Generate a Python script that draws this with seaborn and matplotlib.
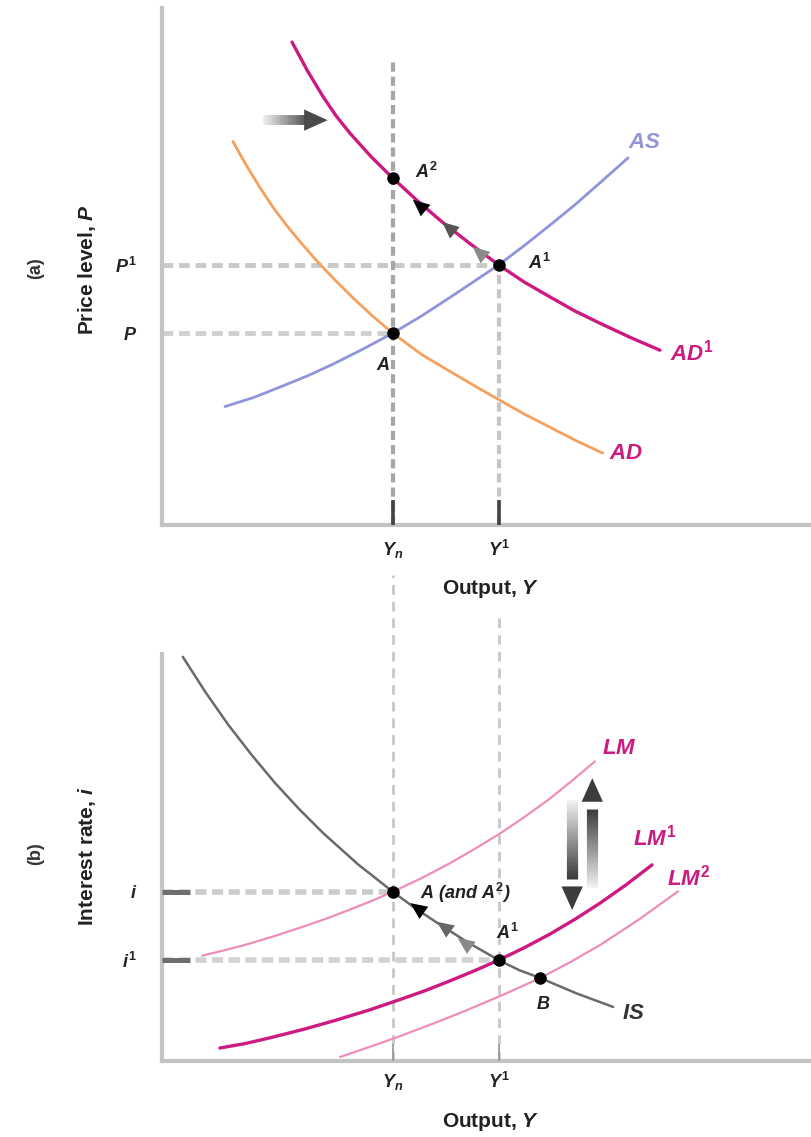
import numpy as np
import matplotlib
matplotlib.use("Agg")
import matplotlib.pyplot as plt
from matplotlib.colors import to_rgb
import seaborn as sns

# ---- panel (a): aggregate demand / aggregate supply ----
Y_N, Y_1 = 35.5, 51.8
P_0, P_1, P_2 = 37.1, 50.3, 67.1

ad_x = [10.9, 13.0, 15.1, 17.1, 19.2, 21.5, 23.8, 26.6, 29.4, 32.4, 35.5,
        39.9, 44.3, 48.1, 52.0, 55.8, 59.7, 63.7, 67.8]
ad_y = [74.2, 69.5, 65.2, 61.4, 57.9, 54.4, 51.1, 47.4, 43.9, 40.4, 37.1,
        33.0, 29.7, 26.9, 24.1, 21.4, 18.9, 16.3, 13.9]
ad1_x = [20.0, 22.4, 24.8, 26.8, 28.9, 32.2, 35.5, 39.3, 43.1, 47.4, 51.8,
         55.7, 59.7, 63.5, 67.4, 72.0, 76.6]
ad1_y = [93.4, 87.8, 82.8, 79.1, 75.8, 71.2, 67.1, 62.7, 58.6, 54.4, 50.3,
         47.0, 44.1, 41.4, 39.0, 36.3, 33.8]
as_x = [9.7, 14.2, 18.6, 22.5, 26.3, 30.9, 35.5, 39.9, 44.3, 48.0, 51.8,
        55.8, 59.7, 63.6, 67.4, 71.7]
as_y = [22.9, 24.7, 26.9, 28.9, 31.1, 34.0, 37.1, 40.4, 44.0, 47.1, 50.3,
        54.1, 58.0, 62.0, 66.2, 71.0]

# ---- panel (b): IS / LM ----
I_0, I_1 = 41.6, 24.8
B_X, B_Y = 58.2, 20.4
is_x = [3.2, 6.7, 10.2, 13.8, 17.4, 21.1, 24.8, 30.1, 35.5, 38.9, 42.3,
        47.0, 51.8, 55.0, 58.2, 63.8, 69.4]
is_y = [99.3, 90.6, 82.6, 75.2, 68.3, 61.9, 56.0, 48.4, 41.6, 37.6, 34.0,
        29.2, 24.8, 22.3, 20.4, 16.6, 13.3]
lm_x = [6.2, 9.3, 12.5, 17.1, 21.7, 25.3, 28.9, 32.2, 35.5, 39.9, 44.3,
        48.1, 52.0, 55.8, 59.7, 63.1, 66.6]
lm_y = [25.9, 27.1, 28.4, 30.6, 33.0, 35.0, 37.2, 39.3, 41.6, 44.9, 48.6,
        52.1, 55.9, 60.0, 64.5, 68.9, 73.6]
lm1_x = [8.9, 12.8, 16.6, 21.8, 26.9, 31.8, 36.6, 40.5, 44.3, 48.1, 51.8,
         55.8, 59.7, 63.6, 67.4, 71.4, 75.4]
lm1_y = [3.2, 4.3, 5.7, 7.8, 10.1, 12.5, 15.1, 17.3, 19.7, 22.2, 24.8,
         27.9, 31.2, 34.9, 38.8, 43.3, 48.2]
lm2_x = [27.4, 32.0, 36.6, 41.7, 46.9, 52.5, 58.2, 62.8, 67.4, 73.4, 79.4]
lm2_y = [1.0, 3.5, 6.1, 9.2, 12.5, 16.3, 20.4, 24.3, 28.5, 34.8, 41.7]

# colours
MAGENTA = "#cc1a82"
ORANGE = "#f6a05c"
LAVENDER = "#8f95d8"
PINK = "#ee8dbb"
IS_GREY = "#6a6a6a"

sns.set_theme(style="white")
plt.rcParams["font.family"] = ["Liberation Sans", "DejaVu Sans"]
plt.rcParams["mathtext.fontset"] = "custom"
plt.rcParams["mathtext.it"] = "Liberation Sans:italic:bold"
plt.rcParams["mathtext.rm"] = "Liberation Sans:bold"
plt.rcParams["mathtext.bf"] = "Liberation Sans:bold"

fig = plt.figure(figsize=(8.12, 11.37), dpi=100)
ax1 = fig.add_axes([0.1995, 0.5383, 0.8005, 0.4547])
ax2 = fig.add_axes([0.1995, 0.0668, 0.8005, 0.3580])


def style_axes(ax):
    ax.set_xlim(0, 100)
    ax.set_ylim(0, 100)
    ax.set_axisbelow(False)
    for s in ["top", "right"]:
        ax.spines[s].set_visible(False)
    for s in ["left", "bottom"]:
        ax.spines[s].set_color("#c4c4c4")
        ax.spines[s].set_linewidth(3)
    ax.grid(False)


def curve(ax, x, y, color, lw):
    sns.lineplot(x=x, y=y, ax=ax, color=color, lw=lw, sort=False,
                 estimator=None, zorder=3)


def head(ax, tip, tail, color, scale=12):
    ax.annotate("", xy=tip, xytext=tail,
                arrowprops=dict(arrowstyle="-|>,head_length=1.0,head_width=0.45",
                                mutation_scale=scale, color=color, lw=0,
                                shrinkA=0, shrinkB=0), zorder=5)


def grad_arrow(ax, start, end, dark, lw=7, n=30):
    # shaft fading from light to dark, then a solid head
    c0 = np.array(to_rgb("#f4f4f4"))
    c1 = np.array(to_rgb(dark))
    sx, sy = start
    ex, ey = end
    hx = sx + (ex - sx) * 0.72
    hy = sy + (ey - sy) * 0.72
    for k in range(n):
        a0, a1 = k / n, min(1.0, (k + 1.6) / n)
        ax.plot([sx + (hx - sx) * a0, sx + (hx - sx) * a1],
                [sy + (hy - sy) * a0, sy + (hy - sy) * a1],
                color=c0 + (c1 - c0) * ((k + 1) / n), lw=lw,
                solid_capstyle="butt", zorder=4)
    head(ax, (ex, ey), (hx, hy), dark, scale=17)


# ================= panel (a) =================
style_axes(ax1)
ax1.plot([0, Y_1], [P_1, P_1], color="#c9c9c9", lw=3.5, ls=(0, (2.2, 1.2)), zorder=1)
ax1.plot([0, Y_N], [P_0, P_0], color="#d0d0d0", lw=3.5, ls=(0, (2.2, 1.2)), zorder=1)
ax1.plot([Y_N, Y_N], [0, 90], color="#a6a6a6", lw=3, ls=(0, (2.2, 1.2)), zorder=1)
ax1.plot([Y_1, Y_1], [0, P_1], color="#c6c6c6", lw=3, ls=(0, (2.2, 1.2)), zorder=1)

curve(ax1, ad_x, ad_y, ORANGE, 2.0)
curve(ax1, as_x, as_y, LAVENDER, 2.0)
curve(ax1, ad1_x, ad1_y, MAGENTA, 2.4)

ax1.plot([Y_N, Y_1, Y_N], [P_0, P_1, P_2], "o", color="black", ms=8, zorder=6)

head(ax1, (38.6, 62.9), (40.1, 61.3), "black")
head(ax1, (43.1, 58.6), (44.6, 57.0), "#555555")
head(ax1, (47.8, 53.8), (49.3, 52.2), "#8a8a8a")
grad_arrow(ax1, (15.5, 78.3), (25.5, 78.3), "#4a4a4a")

lab = dict(fontsize=16, fontweight="bold", style="italic")
ax1.text(78.2, 33.3, r"$AD^1$", color=MAGENTA, ha="left", va="center", **lab)
ax1.text(68.8, 13.9, r"$AD$", color=MAGENTA, ha="left", va="center", **lab)
ax1.text(71.7, 73.9, r"$AS$", color=LAVENDER, ha="left", va="center", **lab)
pt = dict(fontsize=13, color="#222222")
ax1.text(38.9, 68.3, r"$A^2$", ha="left", va="center", **pt)
ax1.text(56.3, 50.7, r"$A^1$", ha="left", va="center", **pt)
ax1.text(34.0, 32.5, r"$A$", ha="center", va="top", **pt)

ax1.set_xticks([Y_N, Y_1], [r"$Y_n$", r"$Y^1$"])
ax1.set_yticks([P_0, P_1], [r"$P$", r"$P^1$"])
ax1.tick_params(axis="x", direction="in", length=18, width=2.6, color="#444444",
                pad=11, labelsize=13, labelcolor="#222222", bottom=True)
ax1.tick_params(axis="y", length=0, pad=18, labelsize=13, labelcolor="#222222")
ax1.set_xlabel(r"Output, $Y$", fontsize=15, fontweight="bold", color="#222222")
ax1.xaxis.set_label_coords(0.506, -0.102)
ax1.set_ylabel(r"Price level, $P$", fontsize=15, fontweight="bold", color="#222222")
ax1.yaxis.set_label_coords(-0.098, 0.493)

# ================= panel (b) =================
style_axes(ax2)
ax2.plot([0, Y_N], [I_0, I_0], color="#cccccc", lw=4, ls=(0, (2.0, 1.0)), zorder=1)
ax2.plot([0, Y_1], [I_1, I_1], color="#d2d2d2", lw=4, ls=(0, (2.0, 1.0)), zorder=1)
ax2.plot([Y_N, Y_N], [0, 119.4], color="#c8c8c8", lw=2, ls=(0, (3.5, 2.5)),
         zorder=1, clip_on=False)
ax2.plot([Y_1, Y_1], [0, 110.6], color="#c8c8c8", lw=2, ls=(0, (3.5, 2.5)),
         zorder=1, clip_on=False)

curve(ax2, lm_x, lm_y, PINK, 1.6)
curve(ax2, lm2_x, lm2_y, PINK, 1.6)
curve(ax2, lm1_x, lm1_y, MAGENTA, 2.4)
curve(ax2, is_x, is_y, IS_GREY, 1.8)

ax2.plot([Y_N, Y_1, B_X], [I_0, I_1, B_Y], "o", color="black", ms=8, zorder=6)

head(ax2, (38.2, 38.8), (39.6, 37.2), "black")
head(ax2, (42.3, 34.2), (43.7, 32.6), "#666666")
head(ax2, (45.5, 30.2), (46.9, 28.6), "#8a8a8a")
grad_arrow(ax2, (66.2, 42.8), (66.2, 69.5), "#3c3c3c", lw=8)
grad_arrow(ax2, (63.1, 64.1), (63.1, 37.1), "#3c3c3c", lw=8)

ax2.text(67.7, 76.9, r"$LM$", color=MAGENTA, ha="left", va="center", **lab)
ax2.text(72.5, 55.0, r"$LM^1$", color=MAGENTA, ha="left", va="center", **lab)
ax2.text(77.7, 45.2, r"$LM^2$", color=MAGENTA, ha="left", va="center", **lab)
ax2.text(70.8, 11.8, r"$IS$", color="#333333", ha="left", va="center", **lab)
ax2.text(39.7, 41.3, r"$A$ (and $A^2$)", ha="left", va="center", style="italic",
         fontweight="bold", **pt)
ax2.text(53.1, 31.4, r"$A^1$", ha="center", va="center", **pt)
ax2.text(58.6, 13.8, r"$B$", ha="center", va="center", **pt)

ax2.set_xticks([Y_N, Y_1], [r"$Y_n$", r"$Y^1$"])
ax2.set_yticks([I_1, I_0], [r"$i^1$", r"$i$"])
ax2.tick_params(axis="x", direction="in", length=12, width=1.3, color="#9a9a9a",
                pad=8, labelsize=13, labelcolor="#222222", bottom=True)
ax2.tick_params(axis="y", direction="in", length=20, width=3.6, color="#6e6e6e",
                pad=18, labelsize=13, labelcolor="#222222", left=True)
ax2.set_xlabel(r"Output, $Y$", fontsize=15, fontweight="bold", color="#222222")
ax2.xaxis.set_label_coords(0.506, -0.123)
ax2.set_ylabel(r"Interest rate, $i$", fontsize=15, fontweight="bold", color="#222222")
ax2.yaxis.set_label_coords(-0.098, 0.504)

fig.text(36 / 812, 1 - 268 / 1137, "(a)", rotation=90, ha="center", va="center",
         fontsize=13, fontweight="bold", color="#333333")
fig.text(36 / 812, 1 - 854 / 1137, "(b)", rotation=90, ha="center", va="center",
         fontsize=13, fontweight="bold", color="#333333")

fig.savefig("out.png", dpi=100)
